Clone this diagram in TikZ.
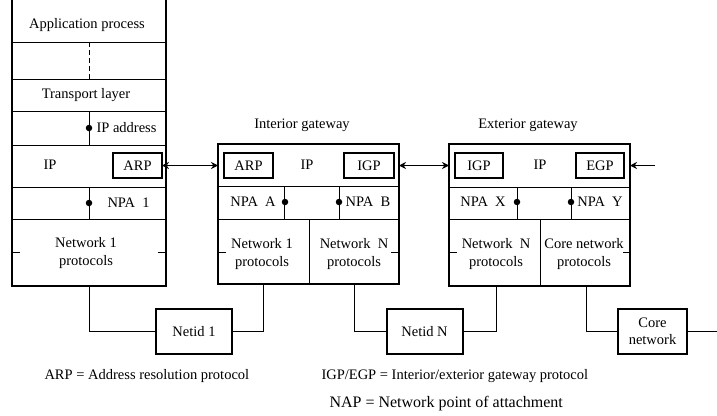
\documentclass[tikz,border=0pt]{standalone}
\usepackage{fontspec}
\setmainfont{Liberation Serif}
\usetikzlibrary{arrows.meta}
\begin{document}
\begin{tikzpicture}[x=1pt,y=-1pt,line width=1pt,
  txt/.style={font=\fontsize{14.5}{18.5}\selectfont,inner sep=0pt},
  big/.style={font=\fontsize{16}{18}\selectfont,inner sep=0pt},
  heavy/.style={line width=2pt},
  gw/.style={draw,line width=2pt,minimum width=181pt,outer sep=0pt,inner sep=0pt},
  pbox/.style={draw,line width=2.2pt,minimum height=25pt,outer sep=0pt,inner sep=0pt,txt},
  netbox/.style={draw,line width=2pt,minimum height=45pt,outer sep=0pt,inner sep=0pt,txt,align=center},
  dot/.style={circle,fill,inner sep=0pt,minimum size=6.5pt},
  dbl/.style={{Stealth[length=7pt,width=7pt]}-{Stealth[length=7pt,width=7pt]}},
  one/.style={-{Stealth[length=7pt,width=7pt]}}]
\useasboundingbox (0,0) rectangle (717,415);

% ---------- host protocol stack ----------
\coordinate (hTL) at (12,0);
\coordinate (hTR) at (166,0);
\coordinate (hBL) at (12,286);
\coordinate (hBR) at (166,286);
\draw[heavy] (hTL) -- (hBL) -- (hBR) -- (hTR);
\foreach \y in {42,79,111,145,187,219}
  \draw (12,\y) -- (166,\y);
\draw[dashed,dash pattern=on 5pt off 3pt] (89,42) -- (89,79);
\draw (89,111) -- (89,145);
\draw (89,187) -- (89,219);
\node[dot] (ipdot) at (89,128) {};
\node[dot] (npa1dot) at (89,203) {};
\draw (12,252) -- (20,252) (158,252) -- (166,252);
\node[txt] (app) at (87,25) {Application process};
\node[txt] (tl) at (86,95) {Transport layer};
\node[txt,anchor=west] (ipa) at (96,128) {IP address};
\node[txt] (hip) at (50,165) {IP};
\node[txt,anchor=west] (npa1) at (107,203) {NPA\ \ 1};
\node[txt,align=center] (hnet) at (86,253) {Network 1\\protocols};
\node[pbox,minimum width=49pt] (arpH) at (137.5,165.5) {ARP};

% ---------- interior gateway ----------
\node[gw,minimum height=140pt] (igw) at (308.5,214) {};
\draw (218,186) -- (399,186);
\draw (218,219) -- (399,219);
\draw (284,186) -- (284,219);
\draw (339,186) -- (339,219);
\draw (309,219) -- (309,284);
\draw (218,252) -- (226,252) (391,252) -- (399,252);
\node[dot] (dA) at (285,202) {};
\node[dot] (dB) at (339,202) {};
\node[pbox,minimum width=49pt] (arpI) at (248.5,165.5) {ARP};
\node[pbox,minimum width=50pt] (igpI) at (369,165.5) {IGP};
\node[txt] (ipI) at (307,165) {IP};
\node[txt] (npaA) at (253,202) {NPA\ \ A};
\node[txt] (npaB) at (368,202) {NPA\ \ B};
\node[txt,align=center] (n1I) at (262,254) {Network 1\\protocols};
\node[txt,align=center] (nNI) at (354,254) {Network\ \ N\\protocols};
\node[txt] (igwT) at (302,125) {Interior gateway};

% ---------- exterior gateway ----------
\node[gw,minimum height=142pt] (egw) at (539.5,215) {};
\draw (449,187) -- (630,187);
\draw (449,219) -- (630,219);
\draw (517,187) -- (517,219);
\draw (571,187) -- (571,219);
\draw (540,219) -- (540,286);
\draw (449,252) -- (457,252) (623,252) -- (630,252);
\node[dot] (dX) at (517,202) {};
\node[dot] (dY) at (571,202) {};
\node[pbox,minimum width=48pt] (igpE) at (479,165.5) {IGP};
\node[pbox,minimum width=48pt] (egpE) at (600,165.5) {EGP};
\node[txt] (ipE) at (540,165) {IP};
\node[txt] (npaX) at (483,202) {NPA\ \ X};
\node[txt] (npaY) at (600,202) {NPA\ \ Y};
\node[txt,align=center] (nNE) at (496,254) {Network\ \ N\\protocols};
\node[txt,align=center] (coreE) at (584,254) {Core network\\protocols};
\node[txt] (egwT) at (528,125) {Exterior gateway};

% ---------- protocol exchanges ----------
\draw[dbl] (arpH.east) -- (arpH.east -| igw.west);
\draw[dbl] (igpI.east -| igw.east) -- (igpI.east -| egw.west);
\coordinate (rin) at (655,165.5);
\draw[one] (rin) -- (rin -| egw.east);

% ---------- networks ----------
\node[netbox,minimum width=76pt] (net1) at (194,331.5) {Netid 1};
\node[netbox,minimum width=76pt] (netN) at (424.5,331.5) {Netid N};
\node[netbox,minimum width=69pt,font=\fontsize{14.5}{17}\selectfont] (core) at (652.5,331.5) {Core\\network};
\coordinate (hDrop) at (89,286);
\coordinate (iDrop1) at (263,284);
\coordinate (iDropN) at (354,284);
\coordinate (eDropN) at (496,286);
\coordinate (eDropC) at (586,286);
\coordinate (coreOut) at (717,331.5);
\draw (hDrop) |- (net1.west);
\draw (net1.east) -| (iDrop1);
\draw (iDropN) |- (netN.west);
\draw (netN.east) -| (eDropN);
\draw (eDropC) |- (core.west);
\draw (core.east) -- (coreOut);

% ---------- key ----------
\node[txt,anchor=west] (k1) at (44,376) {ARP = Address resolution protocol};
\node[txt,anchor=west] (k2) at (321,376) {IGP/EGP = Interior/exterior gateway protocol};
\node[big,anchor=west] (k3) at (329,404) {NAP = Network point of attachment};
\end{tikzpicture}
\end{document}
